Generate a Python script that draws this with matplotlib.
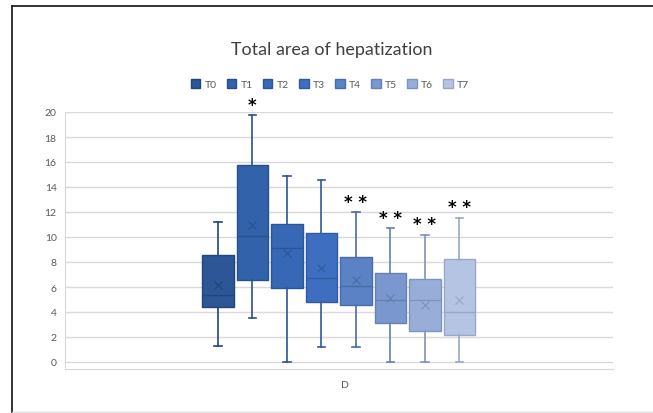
import numpy as np
import matplotlib
matplotlib.use("Agg")
import matplotlib.pyplot as plt
from matplotlib.lines import Line2D
from matplotlib.patches import Patch

plt.rcParams["font.family"] = ["Lato", "DejaVu Sans"]

GROUPS = ["T0", "T1", "T2", "T3", "T4", "T5", "T6", "T7"]
WHIS_LO = [1.3, 3.5, 0.0, 1.2, 1.2, 0.0, 0.0, 0.0]
Q1 = [4.4, 6.55, 5.95, 4.8, 4.55, 3.1, 2.5, 2.15]
MEDIAN = [5.35, 10.1, 9.15, 6.75, 6.05, 4.95, 5.0, 4.0]
Q3 = [8.55, 15.75, 11.05, 10.35, 8.4, 7.15, 6.65, 8.25]
WHIS_HI = [11.2, 19.75, 14.9, 14.6, 12.0, 10.7, 10.2, 11.55]
MEAN = [6.15, 10.95, 8.7, 7.55, 6.6, 5.1, 4.6, 4.95]
STARS = ["", "*", "", "", "**", "**", "**", "**"]
CATEGORY = "D"

FILLS = ["#2c5696", "#3262a9", "#3668b5", "#3d6ebf", "#5a82c4", "#7b97d0", "#98aed9", "#b5c4e3"]
EDGES = ["#22457a", "#28508c", "#2c5597", "#315aa0", "#4a6ca6", "#6680b0", "#7f94ba", "#97a8c6"]
GRAY = "#595959"

fig = plt.figure(figsize=(6.53, 4.14), dpi=100)
ax = fig.add_axes([65 / 653, 44 / 414, 548 / 653, 257 / 414])

stats = [dict(whislo=lo, q1=a, med=m, q3=b, whishi=hi, mean=mu, fliers=[])
         for lo, a, m, b, hi, mu in zip(WHIS_LO, Q1, MEDIAN, Q3, WHIS_HI, MEAN)]
pos = np.arange(len(GROUPS))
for i, s in enumerate(stats):
    ec = EDGES[i]
    ax.bxp([s], positions=[pos[i]], widths=0.9, patch_artist=True, showmeans=True,
           boxprops=dict(facecolor=FILLS[i], edgecolor=ec, linewidth=1.0),
           medianprops=dict(color=ec, linewidth=1.0),
           whiskerprops=dict(color=ec, linewidth=1.2),
           capprops=dict(color=ec, linewidth=1.2), capwidths=0.22,
           meanprops=dict(marker="x", markeredgecolor=ec, markersize=6,
                          markeredgewidth=0.8),
           zorder=3)
    if STARS[i]:
        ax.annotate(" ".join(STARS[i]), (pos[i], WHIS_HI[i]), xytext=(0, 1),
                    textcoords="offset points", ha="center", va="bottom",
                    fontsize=12, fontweight="bold", color="black",
                    family="DejaVu Sans", zorder=5)

ax.set_xlim(-4.435, 11.45)
ax.set_ylim(-0.56, 20)
ax.set_yticks(np.arange(0, 21, 2))
ax.yaxis.grid(True, color="#d9d9d9", linewidth=1.0, zorder=0)
ax.set_xticks([3.68])
ax.set_xticklabels([CATEGORY])
ax.tick_params(length=0, labelsize=7.5, labelcolor=GRAY)
ax.tick_params(axis="y", pad=6)
ax.tick_params(axis="x", pad=8)
for side in ["top", "right"]:
    ax.spines[side].set_visible(False)
for side in ["left", "bottom"]:
    ax.spines[side].set_color("#d9d9d9")

handles = [Patch(facecolor=FILLS[i], edgecolor=EDGES[i], label=g) for i, g in enumerate(GROUPS)]
fig.legend(handles=handles, loc="center", bbox_to_anchor=(330 / 653, 1 - 85 / 414),
           ncol=8, frameon=False, fontsize=7.5, handlelength=0.9, handleheight=0.9,
           handletextpad=0.4, columnspacing=1.0, labelcolor=GRAY)
fig.text(332 / 653, 1 - 50 / 414, "Total area of hepatization", ha="center",
         va="center", fontsize=12.9, color="#404040")

# outer frame (top and left edges)
fig.add_artist(Line2D([12 / 653, 1], [1 - 7 / 414] * 2, color="#222222", lw=1.3))
fig.add_artist(Line2D([12 / 653] * 2, [0, 1 - 7 / 414], color="#222222", lw=1.3))
fig.add_artist(Line2D([12 / 653, 1], [1.5 / 414] * 2, color="#dddddd", lw=1.0))

fig.savefig("out.png", dpi=100)
